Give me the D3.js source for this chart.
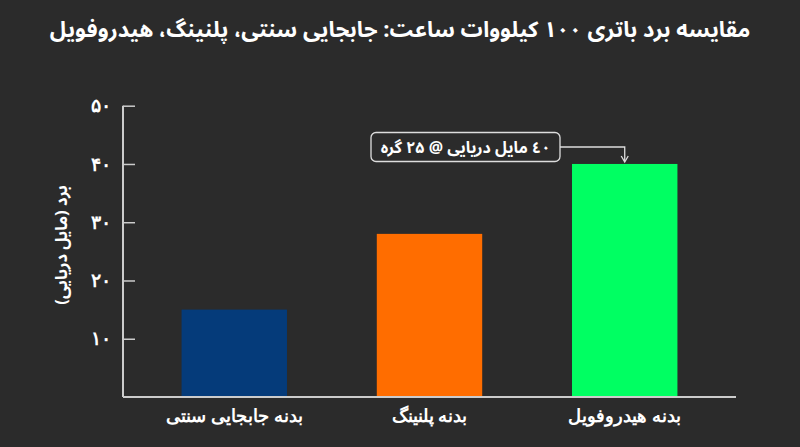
<!DOCTYPE html>
<html lang="fa">
<head>
<meta charset="utf-8">
<script src="https://cdn.jsdelivr.net/npm/d3@7"></script>
<style>
  html, body { margin: 0; padding: 0; background: #2b2b2b; }
  svg { display: block; font-family: "Noto Sans Arabic", "Vazirmatn", "DejaVu Sans", sans-serif; }
</style>
</head>
<body>
<svg id="chart" width="800" height="447"></svg>
<script>
const categories = ["بدنه جابجایی سنتی", "بدنه پلنینگ", "بدنه هیدروفویل"];
const rangeValues = [15, 28, 40];
const barColors = ["#053b7a", "#ff6d00", "#00ff62"];
const yTicks = [10, 20, 30, 40, 50];
const titleText = "مقایسه برد باتری ۱۰۰ کیلووات ساعت: جابجایی سنتی، پلنینگ، هیدروفویل";
const yLabel = "برد (مایل دریایی)";
const annotationText = "٤٠ مایل دریایی @ ۲۵ گره";
const annotationIndex = 2;

const faDigits = s => String(s).replace(/\d/g, d => "۰۱۲۳۴۵۶۷۸۹"[d]);

const svg = d3.select("#chart");
const W = 800, H = 447;
const m = { left: 123, right: 64, top: 105.7, bottom: 50 };

svg.append("rect").attr("width", W).attr("height", H).attr("fill", "#2b2b2b");

const x = d3.scaleBand().domain(categories).range([m.left, W - m.right])
  .paddingInner(0.46).paddingOuter(0.3);
const y = d3.scaleLinear().domain([0, 50]).range([H - m.bottom, m.top]);

// title
svg.append("text").attr("x", W / 2).attr("y", 37).attr("text-anchor", "middle")
  .attr("fill", "#ffffff").attr("font-size", 22).attr("font-weight", "bold")
  .attr("direction", "rtl").text(titleText);

// bars
svg.append("g").selectAll("rect").data(categories).join("rect")
  .attr("x", d => x(d)).attr("width", x.bandwidth())
  .attr("y", (d, i) => y(rangeValues[i]))
  .attr("height", (d, i) => y(0) - y(rangeValues[i]))
  .attr("fill", (d, i) => barColors[i]);

// y axis
const yAxis = svg.append("g").attr("transform", `translate(${m.left},0)`)
  .call(d3.axisRight(y).tickValues(yTicks).tickSize(12).tickFormat(faDigits));
yAxis.select(".domain").attr("stroke", "#cccccc").attr("stroke-width", 2)
  .attr("d", `M0,${y(50)}V${y(0)}`);
yAxis.selectAll(".tick line").attr("stroke", "#cccccc").attr("stroke-width", 1.5);
yAxis.selectAll(".tick text").attr("x", -12).attr("text-anchor", "end")
  .attr("fill", "#ffffff").attr("font-size", 19).attr("font-weight", "bold");

// x axis
const xAxis = svg.append("g").attr("transform", `translate(0,${y(0)})`)
  .call(d3.axisBottom(x).tickSize(0).tickPadding(13));
xAxis.select(".domain").attr("stroke", "#cccccc").attr("stroke-width", 2)
  .attr("d", `M${m.left},0H${W - m.right}`);
xAxis.selectAll(".tick text").attr("fill", "#ffffff").attr("font-size", 17.5)
  .attr("font-weight", "bold").attr("direction", "rtl");

// y label
svg.append("text").attr("transform", `translate(61,245) rotate(-90)`)
  .attr("text-anchor", "middle").attr("dy", "0.35em")
  .attr("fill", "#ffffff").attr("font-size", 16.5).attr("font-weight", "bold")
  .attr("direction", "rtl").text(yLabel);

// annotation
const ax = x(categories[annotationIndex]) + x.bandwidth() / 2;
const ay = y(rangeValues[annotationIndex]);
const boxX = 371, boxW = 189, boxY = 132.5, boxH = 29;
const ann = svg.append("g");
ann.append("path")
  .attr("d", `M${boxX + boxW},${boxY + boxH / 2}H${ax}V${ay - 3}`)
  .attr("fill", "none").attr("stroke", "#dddddd").attr("stroke-width", 1.3);
ann.append("path")
  .attr("d", `M${ax - 3.5},${ay - 8}L${ax},${ay - 2}L${ax + 3.5},${ay - 8}`)
  .attr("fill", "none").attr("stroke", "#dddddd").attr("stroke-width", 1.3);
ann.append("rect").attr("x", boxX).attr("y", boxY).attr("width", boxW).attr("height", boxH)
  .attr("rx", 5).attr("fill", "#2b2b2b").attr("stroke", "#dddddd").attr("stroke-width", 1.3);
ann.append("text").attr("x", boxX + boxW / 2).attr("y", boxY + boxH / 2).attr("dy", "0.35em")
  .attr("text-anchor", "middle").attr("fill", "#ffffff").attr("font-size", 16)
  .attr("font-weight", "bold").attr("direction", "rtl").text(annotationText);
</script>
</body>
</html>
